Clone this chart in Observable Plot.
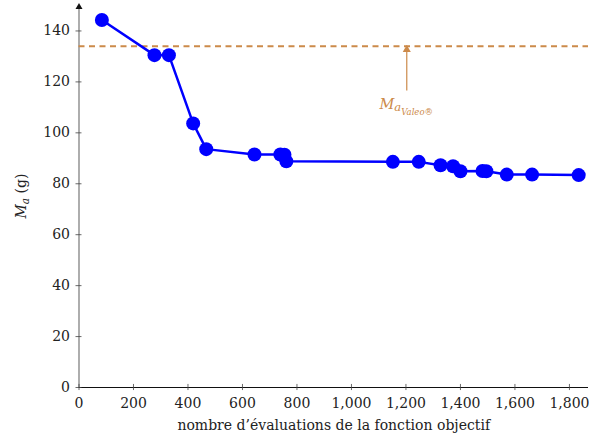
<!DOCTYPE html>
<html>
<head>
<meta charset="utf-8">
<script src="https://cdn.jsdelivr.net/npm/d3@7"></script>
<script src="https://cdn.jsdelivr.net/npm/@observablehq/plot@0.6"></script>
<style>
  html, body { margin: 0; padding: 0; background: #fff; }
  svg { display: block; }
  svg text { font-family: "DejaVu Serif", serif !important; }
</style>
</head>
<body>
<div id="chart"></div>
<script>
// Data
const evaluations = [84, 277, 330, 419, 467, 644, 739, 754, 761, 1152, 1247, 1327, 1373, 1400, 1481, 1495, 1570, 1663, 1834];
const masses      = [144.3, 130.5, 130.5, 103.7, 93.6, 91.5, 91.5, 91.4, 88.8, 88.6, 88.6, 87.3, 86.9, 84.9, 85.0, 84.9, 83.6, 83.6, 83.4];
const valeoMass = 134;
const arrowX = 1203;
const arrowFrom = 116.4;
const xTicks = [0, 200, 400, 600, 800, 1000, 1200, 1400, 1600, 1800];
const yTicks = [0, 20, 40, 60, 80, 100, 120, 140];
const xLabel = "nombre d’évaluations de la fonction objectif";

const data = evaluations.map((x, i) => ({x, y: masses[i]}));

const accent = "#cc8a4a";
const font = "DejaVu Serif";

const plot = Plot.plot({
  width: 589,
  height: 434,
  marginLeft: 78.5,
  marginRight: 1,
  marginTop: 5,
  marginBottom: 47,
  style: {fontFamily: font, fontSize: "14px", color: "#222", background: "#fff"},
  x: {domain: [0, 1870]},
  y: {domain: [0, 150]},
  marks: [
    // axes lines
    Plot.ruleY([0], {stroke: "#111", strokeWidth: 1}),
    Plot.ruleX([0], {y1: 0, y2: 150, stroke: "#777", strokeWidth: 1.2}),
    Plot.dot([{x: 0, y: 150}], {x: "x", y: "y", symbol: "triangle", r: 2.6, fill: "#111", dy: 1.5}),
    // crossing ticks
    Plot.ruleX(xTicks, {x: d => d, y1: -1.2, y2: 1.2, stroke: "#444", strokeWidth: 0.8}),
    Plot.ruleY(yTicks, {y: d => d, x1: -11, x2: 11, stroke: "#444", strokeWidth: 0.8}),
    Plot.axisX({ticks: xTicks, tickSize: 0, tickPadding: 11, tickFormat: d3.format(","), label: xLabel, labelAnchor: "center", labelOffset: 42, labelArrow: "none", fontSize: 14}),
    Plot.axisY({ticks: yTicks, tickSize: 0, tickPadding: 9, label: null, fontSize: 14}),
    // reference line
    Plot.ruleY([valeoMass], {stroke: accent, strokeWidth: 2.2, strokeDasharray: "6,4.5"}),
    Plot.ruleX([arrowX], {y1: arrowFrom, y2: valeoMass, stroke: accent, strokeWidth: 1.2}),
    Plot.dot([{x: arrowX, y: valeoMass}], {x: "x", y: "y", symbol: "triangle", r: 3, fill: accent, dy: 3.5}),
    // data
    Plot.line(data, {x: "x", y: "y", stroke: "#0000ff", strokeWidth: 2.5}),
    Plot.dot(data, {x: "x", y: "y", r: 7, fill: "#0000ff", stroke: "none"})
  ]
});

document.getElementById("chart").appendChild(plot);

// Math-like labels with sub/subscripts, positioned through the Plot scales
const svg = d3.select(plot);
svg.attr("font-family", font);
const sx = plot.scale("x"), sy = plot.scale("y");

// annotation label M_{a_{Valeo®}}
const lx = sx.apply(arrowX), ly = sy.apply(arrowFrom);
const t = svg.append("text")
  .attr("x", lx).attr("y", ly + 18)
  .attr("text-anchor", "middle")
  .attr("fill", accent)
  .attr("font-style", "italic")
  .attr("font-size", 14.5);
t.append("tspan").text("M");
t.append("tspan").attr("font-size", 11.5).attr("dy", 2).text("a");
t.append("tspan").attr("font-size", 8.5).attr("dy", 4).text("Valeo");
t.append("tspan").attr("font-size", 8.5).attr("font-style", "normal").text("®");

// y axis label M_a (g)
const cy = (sy.apply(0) + sy.apply(150)) / 2;
const yl = svg.append("text")
  .attr("transform", `translate(26,${cy}) rotate(-90)`)
  .attr("text-anchor", "middle")
  .attr("fill", "#222")
  .attr("font-size", 14);
yl.append("tspan").attr("font-style", "italic").text("M");
yl.append("tspan").attr("font-style", "italic").attr("font-size", 10.5).attr("dy", 3).text("a");
yl.append("tspan").attr("dy", -3).text(" (g)");
</script>
</body>
</html>
